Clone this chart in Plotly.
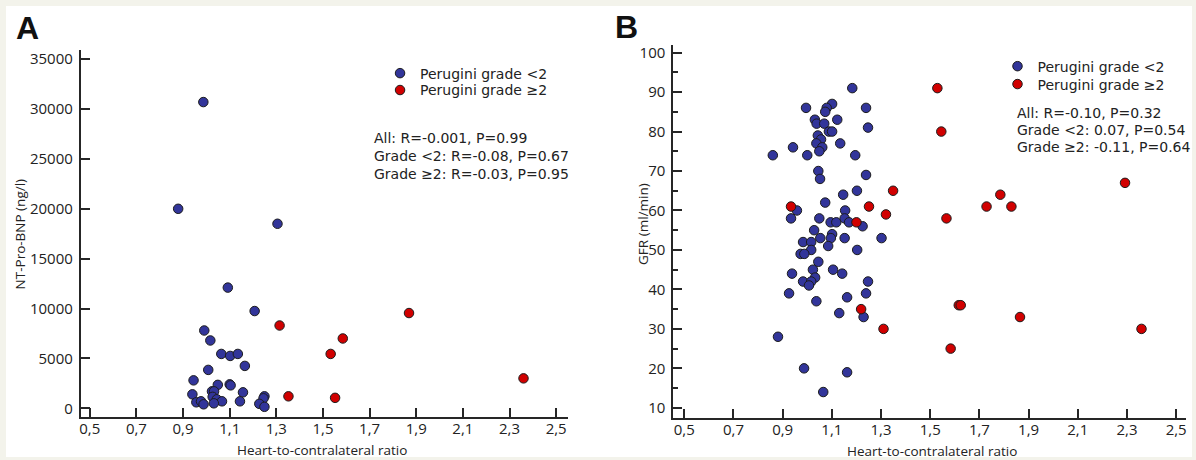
import plotly.graph_objects as go

# ---------------- data ----------------
x_tick_vals = [0.5, 0.7, 0.9, 1.1, 1.3, 1.5, 1.7, 1.9, 2.1, 2.3, 2.5]
x_tick_text = ["0,5", "0,7", "0,9", "1,1", "1,3", "1,5", "1,7", "1,9", "2,1", "2,3", "2,5"]
a_y_ticks = [0, 5000, 10000, 15000, 20000, 25000, 30000, 35000]
b_y_ticks = [10, 20, 30, 40, 50, 60, 70, 80, 90, 100]

legend_labels = ["Perugini grade <2", "Perugini grade \u22652"]
a_stats = ["All: R=-0.001, P=0.99", "Grade <2: R=-0.08, P=0.67", "Grade \u22652: R=-0.03, P=0.95"]
b_stats = ["All: R=-0.10, P=0.32", "Grade <2: 0.07, P=0.54", "Grade \u22652: -0.11, P=0.64"]

# Panel A: NT-Pro-BNP vs heart-to-contralateral ratio
a_low_hcr = [0.879, 0.987, 1.305, 1.092, 1.207, 0.991, 1.017, 1.064, 1.102, 1.135,
             1.165, 1.008, 0.945, 1.049, 1.100, 1.104, 1.024, 1.033, 0.940, 1.157,
             1.027, 1.045, 1.067, 1.032, 0.957, 0.977, 0.988, 1.144, 1.249, 1.245,
             1.227, 1.249]
a_low_bnp = [20000, 30700, 18500, 12100, 9750, 7800, 6800, 5450, 5250, 5450,
             4250, 3850, 2800, 2350, 2400, 2300, 1700, 1700, 1400, 1600,
             1150, 900, 700, 500, 600, 700, 400, 700, 1200, 1000,
             450, 150]
a_high_hcr = [1.314, 1.352, 1.533, 1.585, 1.552, 1.869, 2.360]
a_high_bnp = [8300, 1200, 5450, 7000, 1050, 9550, 3000]

# Panel B: GFR vs heart-to-contralateral ratio
b_low_hcr = [1.183, 0.995, 1.101, 1.079, 1.073, 1.239, 1.031, 1.038, 1.069, 1.122,
             1.247, 1.088, 1.101, 1.043, 1.056, 1.037, 1.061, 1.134, 0.942, 1.049,
             0.860, 1.000, 1.195, 1.045, 1.052, 1.239, 1.146, 1.202, 0.958, 0.934,
             1.073, 1.154, 1.049, 1.095, 1.118, 1.152, 1.170, 1.225, 1.028, 1.101,
             1.096, 1.053, 1.152, 1.302, 0.983, 1.016, 1.085, 1.016, 1.203, 0.973,
             0.988, 1.045, 1.023, 1.105, 1.142, 0.938, 1.032, 0.983, 1.016, 1.007,
             1.247, 0.926, 1.239, 1.162, 1.037, 1.130, 1.229, 0.881, 0.987, 1.162,
             1.065]
b_low_gfr = [91, 86, 87, 86, 85, 86, 83, 82, 82, 83,
             81, 80, 80, 79, 78, 77, 76, 77, 76, 75,
             74, 74, 74, 70, 68, 69, 64, 65, 60, 58,
             62, 60, 58, 57, 57, 58, 57, 56, 55, 54,
             53, 53, 53, 53, 52, 52, 51, 50, 50, 49,
             49, 47, 45, 45, 44, 44, 43, 42, 42, 41,
             42, 39, 39, 38, 37, 34, 33, 28, 20, 19,
             14]
b_high_hcr = [0.934, 1.251, 1.320, 1.200, 1.349, 1.219, 1.310, 1.529, 1.545, 2.292,
              1.616, 1.624, 1.865, 1.583, 2.359, 1.566, 1.729, 1.785, 1.830]
b_high_gfr = [61, 61, 59, 57, 65, 35, 30, 91, 80, 67,
              36, 36, 33, 25, 30, 58, 61, 64, 61]

# ---------------- styling ----------------
W, H = 1196, 460
BLUE = "#32359a"
RED = "#d10000"
EDGE = "#1c1c1c"
AX = "#262626"
TICK_FONT = dict(family="Open Sans", size=15, color="#222222")
TXT_FONT = dict(family="DejaVu Sans", size=14, color="#222222")


def px_x(p):
    return p / W


def px_y(p):
    return 1 - p / H


def marker(color, size=9.5):
    return dict(color=color, size=size, line=dict(color=EDGE, width=1))


fig = go.Figure()
fig.add_trace(go.Scatter(x=a_low_hcr, y=a_low_bnp, mode="markers", name=legend_labels[0],
                         marker=marker(BLUE), xaxis="x", yaxis="y", legend="legend"))
fig.add_trace(go.Scatter(x=a_high_hcr, y=a_high_bnp, mode="markers", name=legend_labels[1],
                         marker=marker(RED), xaxis="x", yaxis="y", legend="legend2"))
fig.add_trace(go.Scatter(x=b_low_hcr, y=b_low_gfr, mode="markers", name=legend_labels[0],
                         marker=marker(BLUE), xaxis="x2", yaxis="y2", legend="legend3"))
fig.add_trace(go.Scatter(x=b_high_hcr, y=b_high_gfr, mode="markers", name=legend_labels[1],
                         marker=marker(RED), xaxis="x2", yaxis="y2", legend="legend4"))

common_x = dict(tickmode="array", tickvals=x_tick_vals, ticktext=x_tick_text,
                showline=True, linecolor=AX, linewidth=2, ticks="inside", ticklen=9,
                tickwidth=2, tickcolor=AX, showgrid=False, zeroline=False,
                tickfont=TICK_FONT, ticklabelstandoff=-3, fixedrange=True)
common_y = dict(showline=True, linecolor=AX, linewidth=2, ticks="inside", ticklen=9,
                tickwidth=2, tickcolor=AX, showgrid=False, zeroline=False,
                tickfont=TICK_FONT, ticklabelstandoff=3, fixedrange=True)

legend_common = dict(bgcolor="rgba(0,0,0,0)", borderwidth=0,
                     font=dict(family="DejaVu Sans", size=14, color="#222222"),
                     xanchor="left", yanchor="middle", itemsizing="trace")

annotations = []
# panel letters
annotations.append(dict(text="<b>A</b>", x=px_x(26), y=px_y(25), xref="paper", yref="paper",
                        showarrow=False, font=dict(family="Liberation Sans", size=32, color="#111111"),
                        xanchor="center", yanchor="middle"))
annotations.append(dict(text="<b>B</b>", x=px_x(626), y=px_y(24), xref="paper", yref="paper",
                        showarrow=False, font=dict(family="Liberation Sans", size=32, color="#111111"),
                        xanchor="center", yanchor="middle"))
# axis titles
title_font = dict(family="Open Sans", size=13.5, color="#222222")
annotations.append(dict(text="NT-Pro-BNP (ng/l)", x=px_x(19), y=px_y(232), xref="paper", yref="paper",
                        showarrow=False, textangle=-90, font=title_font, xanchor="center", yanchor="middle"))
annotations.append(dict(text="Heart-to-contralateral ratio", x=px_x(321), y=px_y(450), xref="paper",
                        yref="paper", showarrow=False, font=title_font, xanchor="center", yanchor="middle"))
annotations.append(dict(text="GFR (ml/min)", x=px_x(642), y=px_y(222), xref="paper", yref="paper",
                        showarrow=False, textangle=-90, font=title_font, xanchor="center", yanchor="middle"))
annotations.append(dict(text="Heart-to-contralateral ratio", x=px_x(932), y=px_y(451), xref="paper",
                        yref="paper", showarrow=False, font=title_font, xanchor="center", yanchor="middle"))
# statistics text
for i, line in enumerate(a_stats):
    annotations.append(dict(text=line, x=px_x(371), y=px_y(136 + 18 * i), xref="paper", yref="paper",
                            showarrow=False, font=TXT_FONT, xanchor="left", yanchor="middle"))
for i, line in enumerate(b_stats):
    annotations.append(dict(text=line, x=px_x(1016), y=px_y(111 + 17 * i), xref="paper", yref="paper",
                            showarrow=False, font=TXT_FONT, xanchor="left", yanchor="middle"))

fig.update_layout(
    width=W, height=H,
    margin=dict(l=0, r=0, t=0, b=0),
    paper_bgcolor="#f3f3eb",
    plot_bgcolor="rgba(0,0,0,0)",
    showlegend=True,
    xaxis=dict(common_x, domain=[px_x(79), px_x(567)], range=[0.4615, 2.549], anchor="y"),
    yaxis=dict(common_y, domain=[px_y(417), px_y(47)], range=[-900, 35950], anchor="x",
               tickmode="array", tickvals=a_y_ticks, tickformat="d"),
    xaxis2=dict(common_x, domain=[px_x(673), px_x(1187)], range=[0.4554, 2.540], anchor="y2"),
    yaxis2=dict(common_y, domain=[px_y(418), px_y(42)], range=[7.35, 102.0], anchor="x2",
                tickmode="array", tickvals=b_y_ticks,
                minor=dict(dtick=5, tick0=5, ticks="inside", ticklen=5, tickwidth=1.5, tickcolor=AX)),
    legend=dict(legend_common, x=px_x(379), y=px_y(71)),
    legend2=dict(legend_common, x=px_x(379), y=px_y(88)),
    legend3=dict(legend_common, x=px_x(998), y=px_y(64)),
    legend4=dict(legend_common, x=px_x(998), y=px_y(82)),
    annotations=annotations,
    shapes=[dict(type="rect", xref="paper", yref="paper", x0=px_x(4), x1=px_x(1193),
                 y0=px_y(457), y1=px_y(3), fillcolor="white", line=dict(width=0), layer="below")],
)

fig.write_html("out.html", config={"displayModeBar": False},
               post_script="document.body.style.margin='0px';document.body.style.padding='0px';")
